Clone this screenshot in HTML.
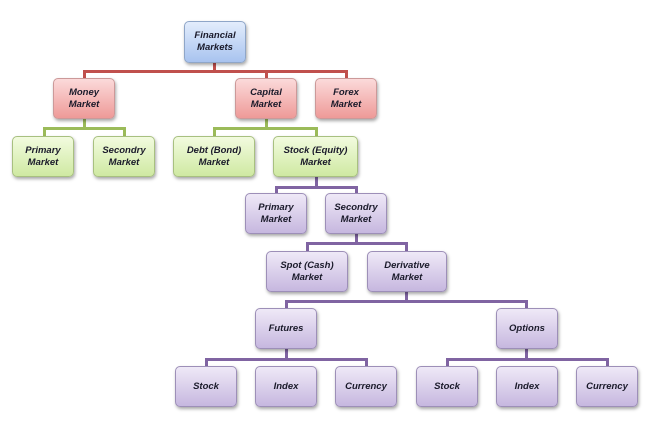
<!DOCTYPE html>
<html><head><style>
body{margin:0;width:651px;height:428px;background:#fff;position:relative;overflow:hidden;font-family:"Liberation Sans",sans-serif}
.b{position:absolute;box-sizing:border-box;border-radius:5px;display:flex;align-items:center;justify-content:center;text-align:center;font-style:italic;font-weight:bold;font-size:9.5px;line-height:12px;color:#1a1a2a;box-shadow:1px 2px 3px rgba(0,0,0,.35)}
.bl{background:linear-gradient(#e3edfc,#a8c3ef);border:1px solid #8fa6c8}
.r{background:linear-gradient(#fbdada,#ee9a98);border:1px solid #c99}
.g{background:linear-gradient(#f2fbdf,#cfe9a2);border:1px solid #a8c080}
.p{background:linear-gradient(#efe9f7,#c6b7df);border:1px solid #9d8fb8}
.l{position:absolute}
.lr{background:#c0504d}.lg{background:#9bbb59}.lp{background:#8064a2}
</style></head><body>
<!-- lines -->
<div class="l lr" style="left:213px;top:62px;width:3px;height:10px"></div>
<div class="l lr" style="left:83px;top:70px;width:265px;height:3px"></div>
<div class="l lr" style="left:83px;top:70px;width:3px;height:9px"></div>
<div class="l lr" style="left:265px;top:70px;width:3px;height:9px"></div>
<div class="l lr" style="left:345px;top:70px;width:3px;height:9px"></div>

<div class="l lg" style="left:83px;top:119px;width:3px;height:10px"></div>
<div class="l lg" style="left:43px;top:127px;width:83px;height:3px"></div>
<div class="l lg" style="left:43px;top:127px;width:3px;height:9px"></div>
<div class="l lg" style="left:123px;top:127px;width:3px;height:9px"></div>
<div class="l lg" style="left:265px;top:119px;width:3px;height:10px"></div>
<div class="l lg" style="left:213px;top:127px;width:105px;height:3px"></div>
<div class="l lg" style="left:213px;top:127px;width:3px;height:9px"></div>
<div class="l lg" style="left:315px;top:127px;width:3px;height:9px"></div>

<div class="l lp" style="left:315px;top:177px;width:3px;height:11px"></div>
<div class="l lp" style="left:275px;top:186px;width:83px;height:3px"></div>
<div class="l lp" style="left:275px;top:186px;width:3px;height:8px"></div>
<div class="l lp" style="left:355px;top:186px;width:3px;height:8px"></div>

<div class="l lp" style="left:355px;top:234px;width:3px;height:10px"></div>
<div class="l lp" style="left:306px;top:242px;width:102px;height:3px"></div>
<div class="l lp" style="left:306px;top:242px;width:3px;height:9px"></div>
<div class="l lp" style="left:405px;top:242px;width:3px;height:9px"></div>

<div class="l lp" style="left:405px;top:292px;width:3px;height:10px"></div>
<div class="l lp" style="left:285px;top:300px;width:243px;height:3px"></div>
<div class="l lp" style="left:285px;top:300px;width:3px;height:8px"></div>
<div class="l lp" style="left:525px;top:300px;width:3px;height:8px"></div>

<div class="l lp" style="left:285px;top:349px;width:3px;height:11px"></div>
<div class="l lp" style="left:205px;top:358px;width:163px;height:3px"></div>
<div class="l lp" style="left:205px;top:358px;width:3px;height:8px"></div>
<div class="l lp" style="left:365px;top:358px;width:3px;height:8px"></div>
<div class="l lp" style="left:525px;top:349px;width:3px;height:11px"></div>
<div class="l lp" style="left:446px;top:358px;width:163px;height:3px"></div>
<div class="l lp" style="left:446px;top:358px;width:3px;height:8px"></div>
<div class="l lp" style="left:606px;top:358px;width:3px;height:8px"></div>

<!-- boxes -->
<div class="b bl" style="left:184px;top:21px;width:62px;height:42px">Financial<br>Markets</div>
<div class="b r" style="left:53px;top:78px;width:62px;height:41px">Money<br>Market</div>
<div class="b r" style="left:235px;top:78px;width:62px;height:41px">Capital<br>Market</div>
<div class="b r" style="left:315px;top:78px;width:62px;height:41px">Forex<br>Market</div>
<div class="b g" style="left:12px;top:136px;width:62px;height:41px">Primary<br>Market</div>
<div class="b g" style="left:93px;top:136px;width:62px;height:41px">Secondry<br>Market</div>
<div class="b g" style="left:173px;top:136px;width:82px;height:41px">Debt (Bond)<br>Market</div>
<div class="b g" style="left:273px;top:136px;width:85px;height:41px">Stock (Equity)<br>Market</div>
<div class="b p" style="left:245px;top:193px;width:62px;height:41px">Primary<br>Market</div>
<div class="b p" style="left:325px;top:193px;width:62px;height:41px">Secondry<br>Market</div>
<div class="b p" style="left:266px;top:251px;width:82px;height:41px">Spot (Cash)<br>Market</div>
<div class="b p" style="left:367px;top:251px;width:80px;height:41px">Derivative<br>Market</div>
<div class="b p" style="left:255px;top:308px;width:62px;height:41px">Futures</div>
<div class="b p" style="left:496px;top:308px;width:62px;height:41px">Options</div>
<div class="b p" style="left:175px;top:366px;width:62px;height:41px">Stock</div>
<div class="b p" style="left:255px;top:366px;width:62px;height:41px">Index</div>
<div class="b p" style="left:335px;top:366px;width:62px;height:41px">Currency</div>
<div class="b p" style="left:416px;top:366px;width:62px;height:41px">Stock</div>
<div class="b p" style="left:496px;top:366px;width:62px;height:41px">Index</div>
<div class="b p" style="left:576px;top:366px;width:62px;height:41px">Currency</div>
</body></html>
